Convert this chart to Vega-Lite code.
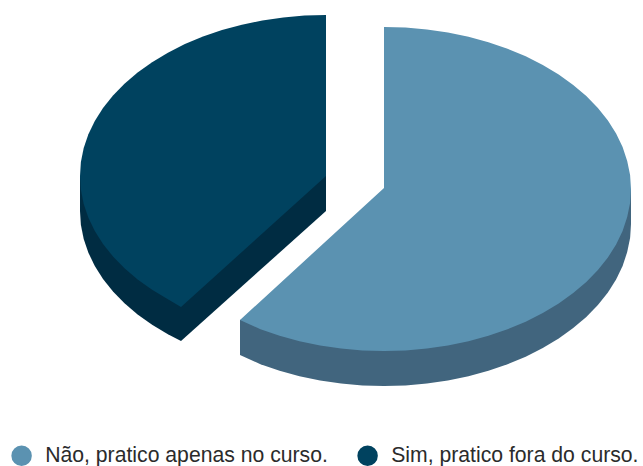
{
  "$schema": "https://vega.github.io/schema/vega-lite/v6.json",
  "width": 643,
  "height": 466,
  "padding": 0,
  "autosize": {"type": "none"},
  "background": "white",
  "view": {"stroke": null},
  "config": {"font": "Liberation Sans"},
  "datasets": {
    "lados": [
      {"resposta": "Sim, pratico fora do curso.", "ordem": 1, "x": 80, "y": 176},
      {"resposta": "Sim, pratico fora do curso.", "ordem": 2, "x": 80, "y": 211},
      {"resposta": "Sim, pratico fora do curso.", "ordem": 3, "x": 80.9, "y": 225},
      {"resposta": "Sim, pratico fora do curso.", "ordem": 4, "x": 83.7, "y": 239},
      {"resposta": "Sim, pratico fora do curso.", "ordem": 5, "x": 88.4, "y": 252.7},
      {"resposta": "Sim, pratico fora do curso.", "ordem": 6, "x": 94.8, "y": 266.1},
      {"resposta": "Sim, pratico fora do curso.", "ordem": 7, "x": 103, "y": 279},
      {"resposta": "Sim, pratico fora do curso.", "ordem": 8, "x": 113, "y": 291.5},
      {"resposta": "Sim, pratico fora do curso.", "ordem": 9, "x": 124.5, "y": 303.3},
      {"resposta": "Sim, pratico fora do curso.", "ordem": 10, "x": 137.6, "y": 314.5},
      {"resposta": "Sim, pratico fora do curso.", "ordem": 11, "x": 152.1, "y": 324.8},
      {"resposta": "Sim, pratico fora do curso.", "ordem": 12, "x": 167.9, "y": 334.3},
      {"resposta": "Sim, pratico fora do curso.", "ordem": 13, "x": 181, "y": 341},
      {"resposta": "Sim, pratico fora do curso.", "ordem": 14, "x": 326, "y": 211},
      {"resposta": "Sim, pratico fora do curso.", "ordem": 15, "x": 326, "y": 176},
      {"resposta": "Não, pratico apenas no curso.", "ordem": 1, "x": 631, "y": 189},
      {"resposta": "Não, pratico apenas no curso.", "ordem": 2, "x": 631, "y": 224},
      {"resposta": "Não, pratico apenas no curso.", "ordem": 3, "x": 630.1, "y": 238.1},
      {"resposta": "Não, pratico apenas no curso.", "ordem": 4, "x": 627.2, "y": 252.1},
      {"resposta": "Não, pratico apenas no curso.", "ordem": 5, "x": 622.6, "y": 265.9},
      {"resposta": "Não, pratico apenas no curso.", "ordem": 6, "x": 616.1, "y": 279.4},
      {"resposta": "Não, pratico apenas no curso.", "ordem": 7, "x": 607.9, "y": 292.5},
      {"resposta": "Não, pratico apenas no curso.", "ordem": 8, "x": 597.9, "y": 305},
      {"resposta": "Não, pratico apenas no curso.", "ordem": 9, "x": 586.3, "y": 316.9},
      {"resposta": "Não, pratico apenas no curso.", "ordem": 10, "x": 573.2, "y": 328.1},
      {"resposta": "Não, pratico apenas no curso.", "ordem": 11, "x": 558.7, "y": 338.6},
      {"resposta": "Não, pratico apenas no curso.", "ordem": 12, "x": 542.8, "y": 348.1},
      {"resposta": "Não, pratico apenas no curso.", "ordem": 13, "x": 525.7, "y": 356.7},
      {"resposta": "Não, pratico apenas no curso.", "ordem": 14, "x": 507.5, "y": 364.3},
      {"resposta": "Não, pratico apenas no curso.", "ordem": 15, "x": 488.4, "y": 370.8},
      {"resposta": "Não, pratico apenas no curso.", "ordem": 16, "x": 468.5, "y": 376.2},
      {"resposta": "Não, pratico apenas no curso.", "ordem": 17, "x": 447.9, "y": 380.5},
      {"resposta": "Não, pratico apenas no curso.", "ordem": 18, "x": 426.9, "y": 383.5},
      {"resposta": "Não, pratico apenas no curso.", "ordem": 19, "x": 405.5, "y": 385.4},
      {"resposta": "Não, pratico apenas no curso.", "ordem": 20, "x": 384, "y": 386},
      {"resposta": "Não, pratico apenas no curso.", "ordem": 21, "x": 362.5, "y": 385.4},
      {"resposta": "Não, pratico apenas no curso.", "ordem": 22, "x": 341.1, "y": 383.5},
      {"resposta": "Não, pratico apenas no curso.", "ordem": 23, "x": 320.1, "y": 380.5},
      {"resposta": "Não, pratico apenas no curso.", "ordem": 24, "x": 299.5, "y": 376.2},
      {"resposta": "Não, pratico apenas no curso.", "ordem": 25, "x": 279.6, "y": 370.8},
      {"resposta": "Não, pratico apenas no curso.", "ordem": 26, "x": 260.5, "y": 364.3},
      {"resposta": "Não, pratico apenas no curso.", "ordem": 27, "x": 240, "y": 355},
      {"resposta": "Não, pratico apenas no curso.", "ordem": 28, "x": 240, "y": 320}
    ],
    "topos": [
      {"resposta": "Sim, pratico fora do curso.", "ordem": 1, "x": 326, "y": 176},
      {"resposta": "Sim, pratico fora do curso.", "ordem": 2, "x": 326, "y": 15},
      {"resposta": "Sim, pratico fora do curso.", "ordem": 3, "x": 304.5, "y": 15.6},
      {"resposta": "Sim, pratico fora do curso.", "ordem": 4, "x": 283.3, "y": 17.4},
      {"resposta": "Sim, pratico fora do curso.", "ordem": 5, "x": 262.3, "y": 20.5},
      {"resposta": "Sim, pratico fora do curso.", "ordem": 6, "x": 241.9, "y": 24.7},
      {"resposta": "Sim, pratico fora do curso.", "ordem": 7, "x": 222, "y": 30.1},
      {"resposta": "Sim, pratico fora do curso.", "ordem": 8, "x": 203, "y": 36.6},
      {"resposta": "Sim, pratico fora do curso.", "ordem": 9, "x": 184.9, "y": 44.1},
      {"resposta": "Sim, pratico fora do curso.", "ordem": 10, "x": 167.9, "y": 52.7},
      {"resposta": "Sim, pratico fora do curso.", "ordem": 11, "x": 152.1, "y": 62.2},
      {"resposta": "Sim, pratico fora do curso.", "ordem": 12, "x": 137.6, "y": 72.5},
      {"resposta": "Sim, pratico fora do curso.", "ordem": 13, "x": 124.5, "y": 83.7},
      {"resposta": "Sim, pratico fora do curso.", "ordem": 14, "x": 113, "y": 95.5},
      {"resposta": "Sim, pratico fora do curso.", "ordem": 15, "x": 103, "y": 108},
      {"resposta": "Sim, pratico fora do curso.", "ordem": 16, "x": 94.8, "y": 120.9},
      {"resposta": "Sim, pratico fora do curso.", "ordem": 17, "x": 88.4, "y": 134.3},
      {"resposta": "Sim, pratico fora do curso.", "ordem": 18, "x": 83.7, "y": 148},
      {"resposta": "Sim, pratico fora do curso.", "ordem": 19, "x": 80.9, "y": 162},
      {"resposta": "Sim, pratico fora do curso.", "ordem": 20, "x": 80, "y": 176},
      {"resposta": "Sim, pratico fora do curso.", "ordem": 21, "x": 80.9, "y": 190},
      {"resposta": "Sim, pratico fora do curso.", "ordem": 22, "x": 83.7, "y": 204},
      {"resposta": "Sim, pratico fora do curso.", "ordem": 23, "x": 88.4, "y": 217.7},
      {"resposta": "Sim, pratico fora do curso.", "ordem": 24, "x": 94.8, "y": 231.1},
      {"resposta": "Sim, pratico fora do curso.", "ordem": 25, "x": 103, "y": 244},
      {"resposta": "Sim, pratico fora do curso.", "ordem": 26, "x": 113, "y": 256.5},
      {"resposta": "Sim, pratico fora do curso.", "ordem": 27, "x": 124.5, "y": 268.3},
      {"resposta": "Sim, pratico fora do curso.", "ordem": 28, "x": 137.6, "y": 279.5},
      {"resposta": "Sim, pratico fora do curso.", "ordem": 29, "x": 152.1, "y": 289.8},
      {"resposta": "Sim, pratico fora do curso.", "ordem": 30, "x": 167.9, "y": 299.3},
      {"resposta": "Sim, pratico fora do curso.", "ordem": 31, "x": 181, "y": 307},
      {"resposta": "Não, pratico apenas no curso.", "ordem": 1, "x": 384, "y": 188},
      {"resposta": "Não, pratico apenas no curso.", "ordem": 2, "x": 384, "y": 27},
      {"resposta": "Não, pratico apenas no curso.", "ordem": 3, "x": 405.5, "y": 27.6},
      {"resposta": "Não, pratico apenas no curso.", "ordem": 4, "x": 426.9, "y": 29.5},
      {"resposta": "Não, pratico apenas no curso.", "ordem": 5, "x": 447.9, "y": 32.5},
      {"resposta": "Não, pratico apenas no curso.", "ordem": 6, "x": 468.5, "y": 36.8},
      {"resposta": "Não, pratico apenas no curso.", "ordem": 7, "x": 488.4, "y": 42.2},
      {"resposta": "Não, pratico apenas no curso.", "ordem": 8, "x": 507.5, "y": 48.7},
      {"resposta": "Não, pratico apenas no curso.", "ordem": 9, "x": 525.7, "y": 56.3},
      {"resposta": "Não, pratico apenas no curso.", "ordem": 10, "x": 542.8, "y": 64.9},
      {"resposta": "Não, pratico apenas no curso.", "ordem": 11, "x": 558.7, "y": 74.4},
      {"resposta": "Não, pratico apenas no curso.", "ordem": 12, "x": 573.2, "y": 84.9},
      {"resposta": "Não, pratico apenas no curso.", "ordem": 13, "x": 586.3, "y": 96.1},
      {"resposta": "Não, pratico apenas no curso.", "ordem": 14, "x": 597.9, "y": 108},
      {"resposta": "Não, pratico apenas no curso.", "ordem": 15, "x": 607.9, "y": 120.5},
      {"resposta": "Não, pratico apenas no curso.", "ordem": 16, "x": 616.1, "y": 133.6},
      {"resposta": "Não, pratico apenas no curso.", "ordem": 17, "x": 622.6, "y": 147.1},
      {"resposta": "Não, pratico apenas no curso.", "ordem": 18, "x": 627.2, "y": 160.9},
      {"resposta": "Não, pratico apenas no curso.", "ordem": 19, "x": 630.1, "y": 174.9},
      {"resposta": "Não, pratico apenas no curso.", "ordem": 20, "x": 631, "y": 189},
      {"resposta": "Não, pratico apenas no curso.", "ordem": 21, "x": 630.1, "y": 203.1},
      {"resposta": "Não, pratico apenas no curso.", "ordem": 22, "x": 627.2, "y": 217.1},
      {"resposta": "Não, pratico apenas no curso.", "ordem": 23, "x": 622.6, "y": 230.9},
      {"resposta": "Não, pratico apenas no curso.", "ordem": 24, "x": 616.1, "y": 244.4},
      {"resposta": "Não, pratico apenas no curso.", "ordem": 25, "x": 607.9, "y": 257.5},
      {"resposta": "Não, pratico apenas no curso.", "ordem": 26, "x": 597.9, "y": 270},
      {"resposta": "Não, pratico apenas no curso.", "ordem": 27, "x": 586.3, "y": 281.9},
      {"resposta": "Não, pratico apenas no curso.", "ordem": 28, "x": 573.2, "y": 293.1},
      {"resposta": "Não, pratico apenas no curso.", "ordem": 29, "x": 558.7, "y": 303.6},
      {"resposta": "Não, pratico apenas no curso.", "ordem": 30, "x": 542.8, "y": 313.1},
      {"resposta": "Não, pratico apenas no curso.", "ordem": 31, "x": 525.7, "y": 321.7},
      {"resposta": "Não, pratico apenas no curso.", "ordem": 32, "x": 507.5, "y": 329.3},
      {"resposta": "Não, pratico apenas no curso.", "ordem": 33, "x": 488.4, "y": 335.8},
      {"resposta": "Não, pratico apenas no curso.", "ordem": 34, "x": 468.5, "y": 341.2},
      {"resposta": "Não, pratico apenas no curso.", "ordem": 35, "x": 447.9, "y": 345.5},
      {"resposta": "Não, pratico apenas no curso.", "ordem": 36, "x": 426.9, "y": 348.5},
      {"resposta": "Não, pratico apenas no curso.", "ordem": 37, "x": 405.5, "y": 350.4},
      {"resposta": "Não, pratico apenas no curso.", "ordem": 38, "x": 384, "y": 351},
      {"resposta": "Não, pratico apenas no curso.", "ordem": 39, "x": 362.5, "y": 350.4},
      {"resposta": "Não, pratico apenas no curso.", "ordem": 40, "x": 341.1, "y": 348.5},
      {"resposta": "Não, pratico apenas no curso.", "ordem": 41, "x": 320.1, "y": 345.5},
      {"resposta": "Não, pratico apenas no curso.", "ordem": 42, "x": 299.5, "y": 341.2},
      {"resposta": "Não, pratico apenas no curso.", "ordem": 43, "x": 279.6, "y": 335.8},
      {"resposta": "Não, pratico apenas no curso.", "ordem": 44, "x": 260.5, "y": 329.3},
      {"resposta": "Não, pratico apenas no curso.", "ordem": 45, "x": 240, "y": 320}
    ]
  },
  "layer": [
    {
      "data": {"name": "lados"},
      "mark": {"type": "line", "strokeWidth": 0, "stroke": null, "interpolate": "linear-closed"},
      "encoding": {
        "x": {"field": "x", "type": "quantitative", "scale": {"domain": [0, 643]}, "axis": null},
        "y": {"field": "y", "type": "quantitative", "scale": {"domain": [466, 0]}, "axis": null},
        "order": {"field": "ordem", "type": "quantitative"},
        "fill": {
          "field": "resposta", "type": "nominal", "legend": null,
          "scale": {"domain": ["Não, pratico apenas no curso.", "Sim, pratico fora do curso."], "range": ["#41657e", "#002c42"]}
        },
        "detail": {"field": "resposta"}
      }
    },
    {
      "data": {"name": "topos"},
      "mark": {"type": "line", "strokeWidth": 0, "stroke": null, "interpolate": "linear-closed"},
      "encoding": {
        "x": {"field": "x", "type": "quantitative", "scale": {"domain": [0, 643]}, "axis": null},
        "y": {"field": "y", "type": "quantitative", "scale": {"domain": [466, 0]}, "axis": null},
        "order": {"field": "ordem", "type": "quantitative"},
        "fill": {
          "field": "resposta", "type": "nominal",
          "scale": {"domain": ["Não, pratico apenas no curso.", "Sim, pratico fora do curso."], "range": ["#5b92b1", "#00425f"]},
          "legend": {
            "title": null, "orient": "none", "legendX": 11, "legendY": 445, "direction": "horizontal", "columns": 2,
            "symbolType": "circle", "symbolSize": 420, "symbolStrokeWidth": 0, "labelFontSize": 21.2, "labelColor": "#2b2b2b", "columnPadding": 29, "labelOffset": 13, "labelLimit": 340
          }
        },
        "detail": {"field": "resposta"}
      }
    }
  ],
  "resolve": {"scale": {"fill": "independent"}}
}
